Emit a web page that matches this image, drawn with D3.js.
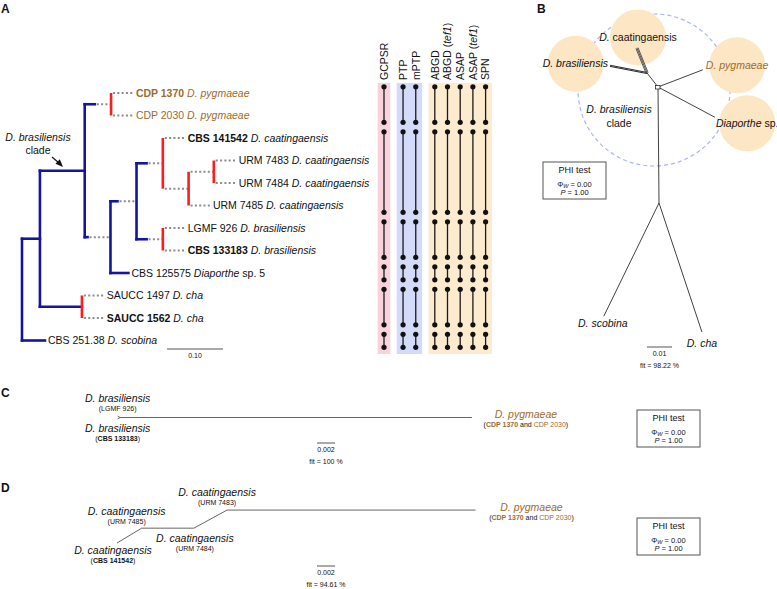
<!DOCTYPE html>
<html>
<head>
<meta charset="utf-8">
<script src="https://d3js.org/d3.v7.min.js"></script>
<style>
  body { margin: 0; background: #fff; }
  svg { font-family: Arial, "Liberation Sans", sans-serif; }
</style>
</head>
<body>
<svg id="fig" width="777" height="589"></svg>
<script>
// ---------- data ----------
// panel A: tips top to bottom
var tips = [
  {id: "CDP 1370",   sp: "D. pygmaeae",      bold: true},
  {id: "CDP 2030",   sp: "D. pygmaeae",      bold: false},
  {id: "CBS 141542", sp: "D. caatingaensis", bold: true},
  {id: "URM 7483",   sp: "D. caatingaensis", bold: false},
  {id: "URM 7484",   sp: "D. caatingaensis", bold: false},
  {id: "URM 7485",   sp: "D. caatingaensis", bold: false},
  {id: "LGMF 926",   sp: "D. brasiliensis",  bold: false},
  {id: "CBS 133183", sp: "D. brasiliensis",  bold: true},
  {id: "CBS 125575", sp: "Diaporthe sp. 5",  bold: false},
  {id: "SAUCC 1497", sp: "D. cha",           bold: false},
  {id: "SAUCC 1562", sp: "D. cha",           bold: true},
  {id: "CBS 251.38", sp: "D. scobina",       bold: false}
];
// branch lengths (bl = drawn branch, gap = dotted extension), substitutions/site
var tree = {children: [
  {bl: 0.032, children: [
    {bl: 0.080, children: [
      {bl: 0.018, gap: 0.029, children: [{id: "CDP 1370", gap: 0.039}, {id: "CDP 2030", gap: 0.039}]},
      {bl: 0.005, gap: 0.041, children: [
        {bl: 0.0125, gap: 0.034, children: [
          {bl: 0.018, gap: 0.029, children: [
            {id: "CBS 141542", gap: 0.039},
            {gap: 0.046, children: [
              {gap: 0.045, children: [{id: "URM 7483", gap: 0.039}, {id: "URM 7484", gap: 0.039}]},
              {id: "URM 7485", gap: 0.038}]}]},
          {bl: 0.018, gap: 0.029, children: [{id: "LGMF 926", gap: 0.039}, {id: "CBS 133183", gap: 0.039}]}]},
        {id: "CBS 125575", bl: 0.032}]}]},
    {bl: 0.075, children: [{id: "SAUCC 1497", gap: 0.039}, {id: "SAUCC 1562", gap: 0.039}]}]},
  {id: "CBS 251.38", bl: 0.041}]};

// species delimitation methods and their groups (tip index ranges)
var methods = ["GCPSR", "PTP", "mPTP", "ABGD", "ABGD (tef1)", "ASAP", "ASAP (tef1)", "SPN"];
var methodBand = [0, 1, 1, 2, 2, 2, 2, 2];
var bandColors = ["#f9d3dc", "#d4dbf8", "#fdebd0"];
var groups = [[0, 1], [2, 5], [6, 7], [8, 8], [9, 10], [11, 11]];
var methodGroups = methods.map(function() { return groups; });

// panel B: split network edges (length, angle in degrees), parallel = number of splits
var netB = [
  {from: "C",  to: "J1",   len: 0.0071, ang: -128},
  {from: "J1", to: "bras", len: 0.0151, ang: -169, par: 2},
  {from: "J1", to: "caat", len: 0.0108, ang: -112, par: 3},
  {from: "C",  to: "pyg",  len: 0.0192, ang: -21},
  {from: "C",  to: "diap", len: 0.0258, ang: 28},
  {from: "C",  to: "J2",   len: 0.0464, ang: 89.5},
  {from: "J2", to: "scob", len: 0.0504, ang: 116},
  {from: "J2", to: "cha",  len: 0.0544, ang: 71.6}
];
// panel C and D networks
var netC = [
  {from: "N", to: "lgmf", len: 0.0003, ang: -150},
  {from: "N", to: "cbs",  len: 0.0003, ang: 150},
  {from: "N", to: "pyg",  len: 0.0391, ang: 0}
];
var netD = [
  {from: "cbs",  to: "u7485", len: 0.0032, ang: -31},
  {from: "u7485", to: "u7484", len: 0.0058, ang: 0},
  {from: "u7484", to: "u7483", len: 0.0042, ang: -28.6},
  {from: "u7483", to: "pyg",  len: 0.0276, ang: 0}
];
var fitB = "fit = 98.22 %", fitC = "fit = 100 %", fitD = "fit = 94.61 %";
var phi = "0.00", pval = "1.00";

// ---------- helpers ----------
var BLUE = "#1414a0", RED = "#ff1c1c", DOT = "#8c8c8c", BROWN = "#9c6b30", INK = "#111";
var svg = d3.select("#fig");

function rich(g, x, y, parts, o) {
  o = o || {};
  var t = g.append("text").attr("x", x).attr("y", y)
    .attr("font-size", o.size || 10.5)
    .attr("text-anchor", o.anchor || "start")
    .attr("fill", o.fill || INK);
  parts.forEach(function(p) {
    var s = t.append("tspan").text(p[0]);
    if (p[1] && p[1].indexOf("i") >= 0) s.attr("font-style", "italic");
    if (p[1] && p[1].indexOf("b") >= 0) s.attr("font-weight", "bold");
    if (p[2]) s.attr("fill", p[2]);
  });
  return t;
}
function spParts(sp) {
  var m = sp.match(/^(.*?)( sp\..*)$/);
  return m ? [[m[1], "i"], [m[2], ""]] : [[sp, "i"]];
}
function letter(x, y, s) {
  svg.append("text").attr("x", x).attr("y", y).attr("font-size", 12)
    .attr("font-weight", "bold").attr("fill", INK).text(s);
}
function layoutNet(edges, start, scale) {
  var pos = {}; pos[edges[0].from] = start;
  edges.forEach(function(e) {
    var p = pos[e.from], r = scale(e.len), a = e.ang * Math.PI / 180;
    pos[e.to] = [p[0] + r * Math.cos(a), p[1] + r * Math.sin(a)];
  });
  return pos;
}
function phiBox(x, y) {
  var g = svg.append("g").attr("transform", "translate(" + x + "," + y + ")");
  g.append("rect").attr("width", 63).attr("height", 37).attr("fill", "#fff")
    .attr("stroke", "#555").attr("stroke-width", 1);
  g.append("text").attr("x", 31.5).attr("y", 10.5).attr("text-anchor", "middle")
    .attr("font-size", 9).attr("fill", INK).text("PHI test");
  var t = g.append("text").attr("x", 31.5).attr("y", 24.5).attr("text-anchor", "middle")
    .attr("font-size", 7.5).attr("fill", INK);
  t.append("tspan").text("\u03A6");
  t.append("tspan").attr("font-style", "italic").attr("font-size", 5.5).attr("dy", 1.5).text("W");
  t.append("tspan").attr("dy", -1.5).text(" = " + phi);
  var t2 = g.append("text").attr("x", 31.5).attr("y", 33).attr("text-anchor", "middle")
    .attr("font-size", 7.5).attr("fill", INK);
  t2.append("tspan").attr("font-style", "italic").text("P");
  t2.append("tspan").text(" = " + pval);
}
function scaleBar(x0, y0, scale, val, fit) {
  svg.append("line").attr("x1", x0).attr("x2", x0 + scale(val)).attr("y1", y0).attr("y2", y0)
    .attr("stroke", "#555").attr("stroke-width", 1);
  svg.append("text").attr("x", x0 + scale(val) / 2).attr("y", y0 + 9).attr("text-anchor", "middle")
    .attr("font-size", 7).attr("fill", INK).text(String(val).replace(/^0\.1$/, "0.10"));
  if (fit) svg.append("text").attr("x", x0 + scale(val) / 2).attr("y", y0 + 21).attr("text-anchor", "middle")
    .attr("font-size", 7).attr("fill", INK).text(fit);
}

// ---------- panel A: tree ----------
letter(1, 13, "A");
var tipById = {}; tips.forEach(function(t) { tipById[t.id] = t; });
var x = d3.scaleLinear().domain([0, 0.1]).range([22, 78]);
var y = d3.scalePoint().domain(tips.map(function(d) { return d.id; })).range([93, 340.5]);
var root = d3.hierarchy(tree);
root.each(function(n) {
  var pd = n.parent ? n.parent.d : 0;
  n.sd = pd + (n.data.bl || 0);
  n.d = n.sd + (n.data.gap || 0);
});
root.eachAfter(function(n) {
  if (!n.children) { n.yy = y(n.data.id); return; }
  n.yy = (n.children[0].yy + n.children[n.children.length - 1].yy) / 2;
  var s = new Set(n.leaves().map(function(l) { return tipById[l.data.id].sp; }));
  n.red = s.size === 1;
});
var gA = svg.append("g");
root.descendants().forEach(function(n) {
  if (!n.parent) return;
  var p = n.parent;
  if (n.data.bl) gA.append("line").attr("x1", x(p.d)).attr("x2", x(n.sd)).attr("y1", n.yy).attr("y2", n.yy)
    .attr("stroke", BLUE).attr("stroke-width", 2.6).attr("stroke-linecap", "square");
  if (n.data.gap) gA.append("line").attr("x1", x(n.sd) + 2).attr("x2", x(n.d)).attr("y1", n.yy).attr("y2", n.yy)
    .attr("stroke", DOT).attr("stroke-width", 2).attr("stroke-dasharray", "2,2.3");
});
root.descendants().forEach(function(n) {
  if (!n.children || !n.parent && false) {}
  if (!n.children) return;
  var c0 = n.children[0], c1 = n.children[n.children.length - 1];
  gA.append("line").attr("x1", x(n.d)).attr("x2", x(n.d)).attr("y1", c0.yy).attr("y2", c1.yy)
    .attr("stroke", n.red ? RED : BLUE).attr("stroke-width", 2.6)
    .attr("stroke-linecap", n.red ? "butt" : "square");
});
root.leaves().forEach(function(n) {
  var t = tipById[n.data.id];
  var col = t.sp === "D. pygmaeae" ? BROWN : INK;
  rich(gA, x(n.d) + 3, n.yy + 3.8, [[t.id + " ", t.bold ? "b" : ""]].concat(spParts(t.sp)), {fill: col});
});
// clade annotation
var n85 = root.children[0].children[0];
rich(gA, 38, 141, [["D. brasiliensis", "i"]], {anchor: "middle"});
rich(gA, 38, 154, [["clade", ""]], {anchor: "middle"});
gA.append("line").attr("x1", 52).attr("y1", 157).attr("x2", 59).attr("y2", 163)
  .attr("stroke", INK).attr("stroke-width", 1.1);
gA.append("path").attr("d", "M63,167 L55.5,163.8 L59.8,159.2 Z").attr("fill", INK);
scaleBar(167, 349, function(v) { return x(v) - x(0); }, 0.1, null);

// ---------- delimitation columns ----------
var colStep = d3.scaleLinear().domain([0, 1]).range([384, 396.7]);
function colX(i) { return colStep(i + 0.5 * methodBand[i]); }
var half = (colStep(1) - colStep(0)) / 2;
[0, 1, 2].forEach(function(b) {
  var idx = methods.map(function(m, i) { return i; }).filter(function(i) { return methodBand[i] === b; });
  svg.append("rect").attr("x", colX(idx[0]) - half).attr("y", 83)
    .attr("width", colX(idx[idx.length - 1]) - colX(idx[0]) + 2 * half).attr("height", 271)
    .attr("fill", bandColors[b]);
});
var ids = tips.map(function(d) { return d.id; });
methods.forEach(function(m, i) {
  var cx = colX(i);
  var t = svg.append("text").attr("transform", "translate(" + (cx + 3.8) + ",80) rotate(-90)")
    .attr("font-size", 10.5).attr("fill", INK);
  var mm = m.match(/^(.*\()(.*)(\))$/);
  if (mm) {
    t.append("tspan").text(mm[1]);
    t.append("tspan").attr("font-style", "italic").text(mm[2]);
    t.append("tspan").text(mm[3]);
  } else t.text(m);
  methodGroups[i].forEach(function(gr) {
    var y0 = y(ids[gr[0]]) - 6.2, y1 = y(ids[gr[1]]) + 6.8;
    svg.append("line").attr("x1", cx).attr("x2", cx).attr("y1", y0).attr("y2", y1)
      .attr("stroke", "#1a1a1a").attr("stroke-width", 1.3);
    [y0, y1].forEach(function(yy) {
      svg.append("circle").attr("cx", cx).attr("cy", yy).attr("r", 2.6).attr("fill", "#111");
    });
  });
});

// ---------- panel B: split network ----------
letter(537, 13, "B");
var sB = d3.scaleLinear().domain([0, 0.01]).range([0, 25]);
var pB = layoutNet(netB, [658, 87], sB);
var gB = svg.append("g");
gB.append("circle").attr("cx", pB.C[0] - 4).attr("cy", pB.C[1] + 3).attr("r", 76)
  .attr("fill", "none").attr("stroke", "#a7b5f2").attr("stroke-width", 1.2).attr("stroke-dasharray", "4,3");
var gCircles = gB.append("g"), gEdges = gB.append("g"), gLab = gB.append("g");
netB.forEach(function(e) {
  var a = pB[e.from], b = pB[e.to], k = e.par || 1;
  var dx = b[0] - a[0], dy = b[1] - a[1], L = Math.sqrt(dx * dx + dy * dy);
  var nx = -dy / L, ny = dx / L;
  for (var i = 0; i < k; i++) {
    var o = (i - (k - 1) / 2) * 1.1;
    gEdges.append("line").attr("x1", a[0] + nx * o).attr("y1", a[1] + ny * o)
      .attr("x2", b[0] + nx * o).attr("y2", b[1] + ny * o)
      .attr("stroke", k === 3 ? "#444" : "#111").attr("stroke-width", k > 1 ? 0.9 : 0.8);
  }
});
gEdges.append("rect").attr("x", pB.C[0] - 2.5).attr("y", pB.C[1] - 1.5).attr("width", 4.5).attr("height", 3.5)
  .attr("fill", "#fff").attr("stroke", "#111").attr("stroke-width", 0.7);
var labB = [
  {n: "bras", dx: -2,  dy: 1.5,  anchor: "end",    parts: [["D. brasiliensis", "i"]], circle: true},
  {n: "caat", dx: 1,   dy: -7,   anchor: "middle", parts: [["D.", "i"], [" caatingaensis", ""]], circle: true},
  {n: "pyg",  dx: 3,   dy: -1,   anchor: "start",  parts: [["D. pygmaeae", "i"]], fill: BROWN, circle: true},
  {n: "diap", dx: 1,   dy: 9.5,  anchor: "start",  parts: [["Diaporthe", "i"], [" sp.", ""]], circle: true},
  {n: "scob", dx: -1,  dy: 11,   anchor: "middle", parts: [["D. scobina", "i"]]},
  {n: "cha",  dx: 0,   dy: 15,   anchor: "middle", parts: [["D. cha", "i"]]}
];
labB.forEach(function(l) {
  var p = pB[l.n];
  var t = rich(gLab, p[0] + l.dx, p[1] + l.dy, l.parts, {anchor: l.anchor, fill: l.fill});
  if (l.circle) {
    var bb = t.node().getBBox();
    gCircles.append("circle").attr("cx", bb.x + bb.width / 2).attr("cy", bb.y + bb.height / 2 + 0.5)
      .attr("r", 28).attr("fill", "#fde6c4");
  }
});
rich(gLab, pB.C[0] - 39, pB.C[1] + 26, [["D. brasiliensis", "i"]], {anchor: "middle"});
rich(gLab, pB.C[0] - 39, pB.C[1] + 40, [["clade", ""]], {anchor: "middle"});
phiBox(543, 162);
scaleBar(647, 347, sB, 0.01, fitB);

// ---------- panel C ----------
letter(1, 397, "C");
var sCD = d3.scaleLinear().domain([0, 0.002]).range([0, 18]);
var pC = layoutNet(netC, [120, 417.5], sCD);
netC.forEach(function(e) {
  svg.append("line").attr("x1", pC[e.from][0]).attr("y1", pC[e.from][1])
    .attr("x2", pC[e.to][0]).attr("y2", pC[e.to][1]).attr("stroke", "#555").attr("stroke-width", 0.9);
});
function tipLabel(p, dx, dy, main, sub, col) {
  rich(svg, p[0] + dx, p[1] + dy, main, {anchor: "middle", fill: col});
  rich(svg, p[0] + dx, p[1] + dy + 9, sub, {anchor: "middle", size: 7, fill: INK});
}
tipLabel(pC.lgmf, 0, -14, [["D. brasiliensis", "i"]], [["(LGMF 926)", ""]]);
tipLabel(pC.cbs, 0, 13.5, [["D. brasiliensis", "i"]], [["(", ""], ["CBS 133183", "b"], [")", ""]]);
var pygSub = [["(", ""], ["CDP 1370", "b", BROWN], [" and ", ""], ["CDP 2030", "", BROWN], [")", ""]];
tipLabel(pC.pyg, 54, 0, [["D. pygmaeae", "i"]], pygSub, BROWN);
scaleBar(317, 443, sCD, 0.002, fitC);
phiBox(637, 410);

// ---------- panel D ----------
letter(1, 492, "D");
var pD = layoutNet(netD, [117, 543], sCD);
netD.forEach(function(e) {
  svg.append("line").attr("x1", pD[e.from][0]).attr("y1", pD[e.from][1])
    .attr("x2", pD[e.to][0]).attr("y2", pD[e.to][1]).attr("stroke", "#555").attr("stroke-width", 0.9);
});
var caat = [["D. caatingaensis", "i"]];
tipLabel(pD.u7483, -10, -14, caat, [["(URM 7483)", ""]]);
tipLabel(pD.u7485, -15, -13, caat, [["(URM 7485)", ""]]);
tipLabel(pD.u7484, 1, 14, caat, [["(URM 7484)", ""]]);
tipLabel(pD.cbs, -4, 11, caat, [["(", ""], ["CBS 141542", "b"], [")", ""]]);
tipLabel(pD.pyg, 56, 1, [["D. pygmaeae", "i"]], pygSub, BROWN);
scaleBar(317, 566, sCD, 0.002, fitD);
phiBox(637, 518);
</script>
</body>
</html>
